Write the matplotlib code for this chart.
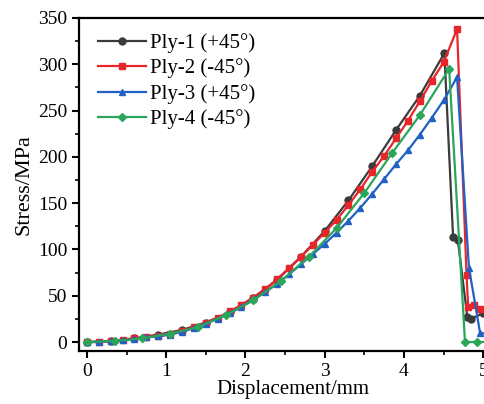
import numpy as np
import matplotlib
matplotlib.use("Agg")
import matplotlib.pyplot as plt
from matplotlib.ticker import MultipleLocator

plt.rcParams['font.family'] = ['Liberation Serif', 'DejaVu Serif']

# --- data ---
ply1_x = [0, 0.3, 0.6, 0.9, 1.2, 1.5, 1.8, 2.1, 2.4, 2.7, 3.0, 3.3, 3.6, 3.9, 4.2, 4.51,
          4.62, 4.68, 4.80, 4.84, 5.0]
ply1_y = [0, 1, 4, 8, 13, 21, 32, 48, 67, 92, 120, 153, 190, 229, 266, 312,
          113, 110, 27, 25, 31]

ply2_x = [0, 0.15, 0.3, 0.45, 0.6, 0.75, 0.9, 1.05, 1.2, 1.35, 1.5, 1.65, 1.8, 1.95, 2.1,
          2.25, 2.4, 2.55, 2.7, 2.85, 3.0, 3.15, 3.3, 3.45, 3.6, 3.75, 3.9, 4.05, 4.2,
          4.35, 4.5, 4.67, 4.79, 4.81, 4.88, 4.96, 5.05]
ply2_y = [0, 0, 1, 2, 4, 5, 7, 9, 12, 16, 21, 26, 33, 40, 48,
          57, 68, 80, 92, 105, 118, 132, 148, 165, 184, 201, 220, 239, 260,
          282, 302, 338, 72, 38, 40, 36, 35]

ply3_x = [0, 0.15, 0.3, 0.45, 0.6, 0.75, 0.9, 1.05, 1.2, 1.35, 1.5, 1.65, 1.8, 1.95, 2.1,
          2.25, 2.4, 2.55, 2.7, 2.85, 3.0, 3.15, 3.3, 3.45, 3.6, 3.75, 3.9, 4.05, 4.2,
          4.35, 4.5, 4.67, 4.82, 4.96, 5.1]
ply3_y = [0, 0, 1, 2, 3, 5, 6, 8, 11, 15, 20, 25, 31, 38, 46,
          54, 63, 73, 84, 95, 106, 118, 131, 145, 160, 176, 192, 207, 224,
          242, 261, 286, 80, 10, 8]

ply4_x = [0, 0.35, 0.7, 1.05, 1.4, 1.75, 2.1, 2.45, 2.8, 3.15, 3.5, 3.85, 4.2, 4.57,
          4.77, 4.92, 5.1]
ply4_y = [0, 1, 4, 9, 16, 29, 45, 66, 92, 123, 161, 204, 245, 295,
          0, 0, 0]

labels = ['Ply-1 (+45°)', 'Ply-2 (-45°)', 'Ply-3 (+45°)', 'Ply-4 (-45°)']
colors = ['#3b3b3b', '#e8252b', '#2160c4', '#2aa55a']
markers = ['o', 's', '^', 'D']

fig = plt.figure(figsize=(4.84, 4.04), dpi=100)
# axes runs past the right edge, the reference is cropped there
ax = fig.add_axes([79/484, 53/404, 428/484, 333/404])

series = [(ply1_x, ply1_y), (ply2_x, ply2_y), (ply3_x, ply3_y), (ply4_x, ply4_y)]
for (xs, ys), lab, c, m in zip(series, labels, colors, markers):
    ms = 4.2 if m == 'D' else 5
    ax.plot(xs, ys, color=c, marker=m, ms=ms, lw=1.6, label=lab, clip_on=True)

ax.set_xlim(-0.1, 5.3)
ax.set_ylim(-9.7, 350)
ax.xaxis.set_major_locator(MultipleLocator(1))
ax.xaxis.set_minor_locator(MultipleLocator(0.5))
ax.yaxis.set_major_locator(MultipleLocator(50))
ax.yaxis.set_minor_locator(MultipleLocator(25))

for s in ['left', 'bottom', 'top', 'right']:
    ax.spines[s].set_linewidth(1.6)
ax.tick_params(which='major', direction='out', length=5, width=1.5, labelsize=14,
               top=False, right=False)
ax.tick_params(which='minor', direction='out', length=3, width=1.2, top=False, right=False)

ax.set_xlabel('Displacement/mm', fontsize=15, labelpad=0)
ax.set_ylabel('Stress/MPa', fontsize=16, labelpad=3)

ax.legend(loc='upper left', frameon=False, fontsize=15, handlelength=2.3,
          handletextpad=0.2, labelspacing=0.27, borderaxespad=0.0,
          bbox_to_anchor=(0.025, 0.98))

fig.savefig('out.png', dpi=100)
